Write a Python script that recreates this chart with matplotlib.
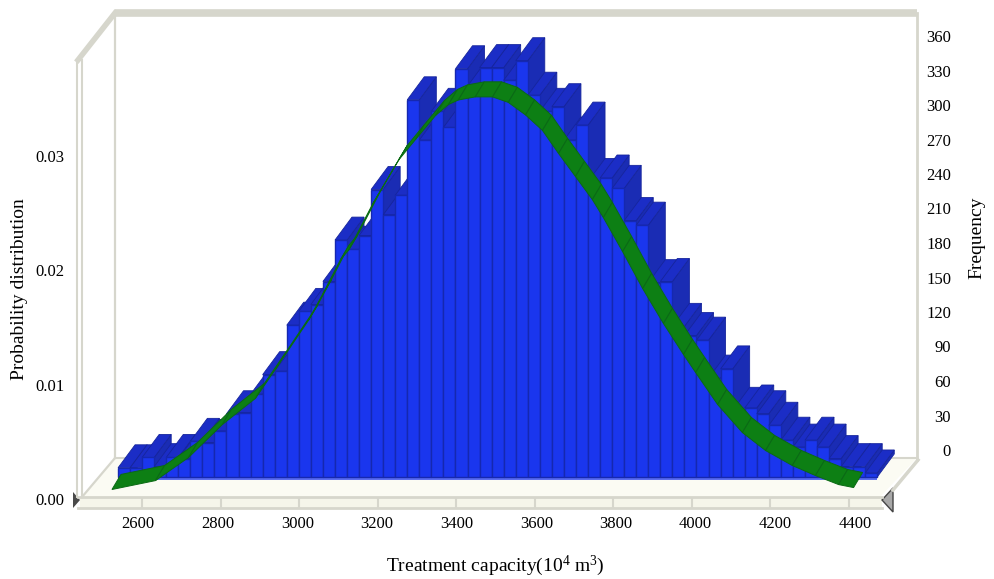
import numpy as np
import matplotlib
matplotlib.use('Agg')
import matplotlib.pyplot as plt

plt.rcParams['font.family'] = ['Liberation Serif', 'DejaVu Serif']
plt.rcParams['mathtext.fontset'] = 'custom'
plt.rcParams['mathtext.rm'] = 'Liberation Serif'
plt.rcParams['mathtext.default'] = 'regular'

# histogram
bin_start = 2539
bin_width = 30.68
frequency = [8, 8, 17, 9, 17, 16, 31, 30, 40, 55, 56, 72, 89, 92, 132, 144, 150, 170, 206, 198, 210,
             250, 228, 245, 328, 293, 318, 304, 355, 340, 356, 356, 345, 362, 332, 318, 322, 293, 306,
             257, 260, 251, 223, 219, 169, 170, 131, 123, 119, 86, 94, 58, 60, 55, 45, 32, 26, 32, 26,
             16, 9, 9, 3.5]

# fitted curve
curve_x = [2535, 2646, 2730, 2816, 2900, 2951, 3035, 3071, 3117, 3137, 3198, 3264, 3308, 3359, 3392,
           3417, 3460, 3504, 3544, 3588, 3631, 3672, 3715, 3758, 3786, 3835, 3886, 3939, 3990, 4021,
           4077, 4140, 4199, 4267, 4326, 4385, 4423]
curve_p = [.00149, .00227, .00429, .00717, .00945, .01199, .01627, .01855, .02161, .0224, .02642,
           .03027, .03211, .03421, .03517, .03556, .03583, .03583, .03535, .03425, .0329, .03088,
           .02887, .02685, .02528, .0223, .01907, .01601, .0133, .01172, .00892, .00647, .0049,
           .00359, .00271, .00192, .00166]

x_ticks = [2600, 2800, 3000, 3200, 3400, 3600, 3800, 4000, 4200, 4400]
p_ticks = [0.00, 0.01, 0.02, 0.03]
f_ticks = [0, 30, 60, 90, 120, 150, 180, 210, 240, 270, 300, 330, 360]

W, H = 995, 579
FRAME = '#d6d6cc'
FONT = 12

fig = plt.figure(figsize=(W / 100, H / 100), dpi=100, facecolor='white')

# frame of the 3d box, in pixels
bg = fig.add_axes([0, 0, 1, 1])
bg.set_xlim(0, W)
bg.set_ylim(H, 0)
bg.axis('off')
bg.fill([82, 880, 917, 115], [497, 497, 458, 458], color='#fbfbf3', lw=0)
bg.fill([80, 882, 882, 80], [497, 497, 508, 508], color='#f5f5ea', lw=0)
bg.plot([115, 917], [13, 13], color=FRAME, lw=5.5, solid_capstyle='butt')
bg.plot([115, 78], [13, 60], color=FRAME, lw=4)
bg.plot([115, 115], [13, 458], color=FRAME, lw=1.6)
bg.plot([917, 917], [13, 460], color=FRAME, lw=2)
bg.plot([77, 77], [60, 497], color=FRAME, lw=1.5)
bg.plot([82, 82], [60, 497], color=FRAME, lw=1.5)
bg.plot([115, 917], [458, 458], color=FRAME, lw=1.5)
bg.plot([115, 82], [458, 497], color=FRAME, lw=1.6)
bg.plot([918, 893], [460, 490], color=FRAME, lw=2.5)
bg.plot([78, 882], [497, 497], color=FRAME, lw=2)
bg.plot([78, 882], [508, 508], color=FRAME, lw=2)
bg.fill([73, 80, 73], [492, 500, 508], color='#4a4a4a', lw=0)
bg.fill([893, 882, 893], [488, 500, 512], facecolor='#a8a8a8', edgecolor='#444444', lw=1)

# bars, x and frequency scale
ax = fig.add_axes([0, 0, 1, 1], facecolor='none')
ax.set_xlim(2600 - 142 / 0.3928, 2600 + (W - 142) / 0.3928)
ax.set_ylim(-(H - 477) / 1.15, 477 / 1.15)
ax.axis('off')
ax.vlines(x_ticks, -27, -17.5, color=FRAME, lw=1.5)

dx = 43.3
dy = 20.0
lefts = bin_start + bin_width * np.arange(len(frequency))
ax.fill_between([lefts[0], lefts[-1] + bin_width], -3, 0, color='#5a6cf0', lw=0, zorder=1)
for i, (l, f) in enumerate(zip(lefts, frequency)):
    r = l + bin_width
    ax.fill([r, r + dx, r + dx, r], [0, dy, f + dy, f], facecolor='#1a2cb4', edgecolor='#16259c', lw=0.6, zorder=2)
    ax.fill([l, r, r + dx, l + dx], [f, f, f + dy, f + dy], facecolor='#1b2dc6', edgecolor='#16259c', lw=0.6, zorder=2)
    ax.bar(l, f, width=bin_width, align='edge', color='#1a36ee', edgecolor='#1528b0', lw=1.0, zorder=2)

# curve as a ribbon, probability scale on the same picture
ax_p = fig.add_axes([0, 0, 1, 1], facecolor='none')
ax_p.set_xlim(ax.get_xlim())
ax_p.set_ylim(-(H - 499) / 11433, 499 / 11433)
ax_p.axis('off')
rx = 11.5
ry = 0.00066
for i in range(len(curve_x) - 1):
    x0, x1 = curve_x[i], curve_x[i + 1]
    p0, p1 = curve_p[i], curve_p[i + 1]
    ax_p.fill([x0 - rx, x1 - rx, x1 + rx, x0 + rx], [p0 - ry, p1 - ry, p1 + ry, p0 + ry],
              facecolor='#0d7f14', edgecolor='#0b6a14', lw=0.7)

# tick labels
ax_x = fig.add_axes([0, (H - 516) / H, 1, 1 / H], facecolor='none')
ax_x.set_xlim(2600 - 138 / 0.3983, 2600 + (W - 138) / 0.3983)
ax_x.set_xticks(x_ticks)
ax_x.set_yticks([])
ax_x.tick_params(axis='x', length=0, pad=0, labelsize=FONT)
for s in ax_x.spines.values():
    s.set_visible(False)

ax_l = fig.add_axes([66 / W, 0, 1 / W, 1], facecolor='none')
ax_l.set_ylim(ax_p.get_ylim())
ax_l.set_yticks(p_ticks, ['%.2f' % p for p in p_ticks])
ax_l.set_xticks([])
ax_l.tick_params(axis='y', length=0, pad=1, labelsize=FONT)
for s in ax_l.spines.values():
    s.set_visible(False)

ax_r = fig.add_axes([951 / W, 0, 1 / W, 1], facecolor='none')
ax_r.set_ylim(-(H - 450) / 1.15, 450 / 1.15)
ax_r.set_yticks(f_ticks)
ax_r.set_xticks([])
ax_r.tick_params(axis='y', length=0, pad=0, labelsize=FONT)
for s in ax_r.spines.values():
    s.set_visible(False)

fig.text(20 / W, 1 - 289 / H, 'Probability distribution', rotation=90, ha='center', va='center', fontsize=14)
fig.text(977 / W, 1 - 238 / H, 'Frequency', rotation=90, ha='center', va='center', fontsize=14)
fig.text(495 / W, 1 - 566 / H, 'Treatment capacity(10$^{4}$ m$^{3}$)', ha='center', va='center', fontsize=14)

fig.savefig('out.png', dpi=100)
